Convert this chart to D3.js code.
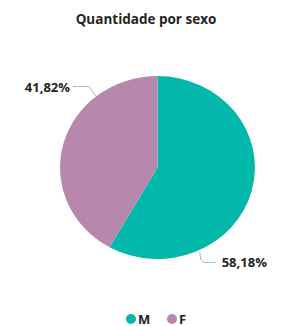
<!DOCTYPE html>
<html>
<head>
<meta charset="utf-8">
<script src="https://cdn.jsdelivr.net/npm/d3@7"></script>
<style>
  body { margin: 0; background: #fff; }
  text { font-family: "Open Sans", "DejaVu Sans", sans-serif; }
</style>
</head>
<body>
<script>
const width = 282;
const height = 326;

const categories = ["M", "F"];
const values = [58.18, 41.82];
const colors = ["#01B8AA", "#B887AD"];

const data = categories.map((c, i) => ({ name: c, value: values[i], color: colors[i] }));

const svg = d3.select("body").append("svg")
    .attr("width", width)
    .attr("height", height);

// title
svg.append("text")
    .attr("x", 146)
    .attr("y", 24)
    .attr("text-anchor", "middle")
    .attr("font-size", 13.5)
    .attr("font-weight", "bold")
    .attr("fill", "#252423")
    .text("Quantidade por sexo");

const cx = 157.5, cy = 167.5, r = 91.5, sx = 1.065;

const pie = d3.pie().sort(null).value(d => d.value);
const arc = d3.arc().innerRadius(0).outerRadius(r);

const g = svg.append("g")
    .attr("transform", `translate(${cx},${cy}) scale(${sx},1)`);

const arcs = pie(data);

g.selectAll("path")
    .data(arcs)
    .join("path")
    .attr("d", arc)
    .attr("fill", d => d.data.color);

// labels with leader lines
const fmt = v => d3.format(".2f")(v).replace(".", ",") + "%";

const labelGroup = svg.append("g");
arcs.forEach(a => {
    const ang = a.startAngle + 0.74 * (a.endAngle - a.startAngle);
    const px = cx + Math.sin(ang) * r * sx;
    const py = cy - Math.cos(ang) * r;
    const right = Math.sin(ang) > 0;
    let pts, tx, ty;
    if (right) {
        const ey = py + 12;
        pts = [[px + 1, py + 1], [px + 2, ey - 3], [px + 5, ey], [px + 17, ey]];
        tx = px + 23; ty = ey + 5;
    } else {
        const ex = px - 7, ey = py - 10;
        pts = [[px, py], [ex, ey], [ex - 16, ey]];
        tx = ex - 19; ty = ey + 5;
    }
    labelGroup.append("path")
        .attr("d", d3.line()(pts))
        .attr("fill", "none")
        .attr("stroke", "#b3b3b3")
        .attr("stroke-width", 1);
    labelGroup.append("text")
        .attr("x", tx)
        .attr("y", ty)
        .attr("text-anchor", right ? "start" : "end")
        .attr("font-size", 13)
        .attr("font-weight", "bold")
        .attr("fill", "#252423")
        .text(fmt(a.data.value));
});

// legend
const legend = svg.append("g").attr("transform", "translate(0,319)");
const lx = [131, 172];
data.forEach((d, i) => {
    legend.append("circle")
        .attr("cx", lx[i])
        .attr("cy", 0)
        .attr("r", 5)
        .attr("fill", d.color);
    legend.append("text")
        .attr("x", lx[i] + 7)
        .attr("y", 4.5)
        .attr("font-size", 13)
        .attr("font-weight", "bold")
        .attr("fill", "#252423")
        .text(d.name);
});
</script>
</body>
</html>
